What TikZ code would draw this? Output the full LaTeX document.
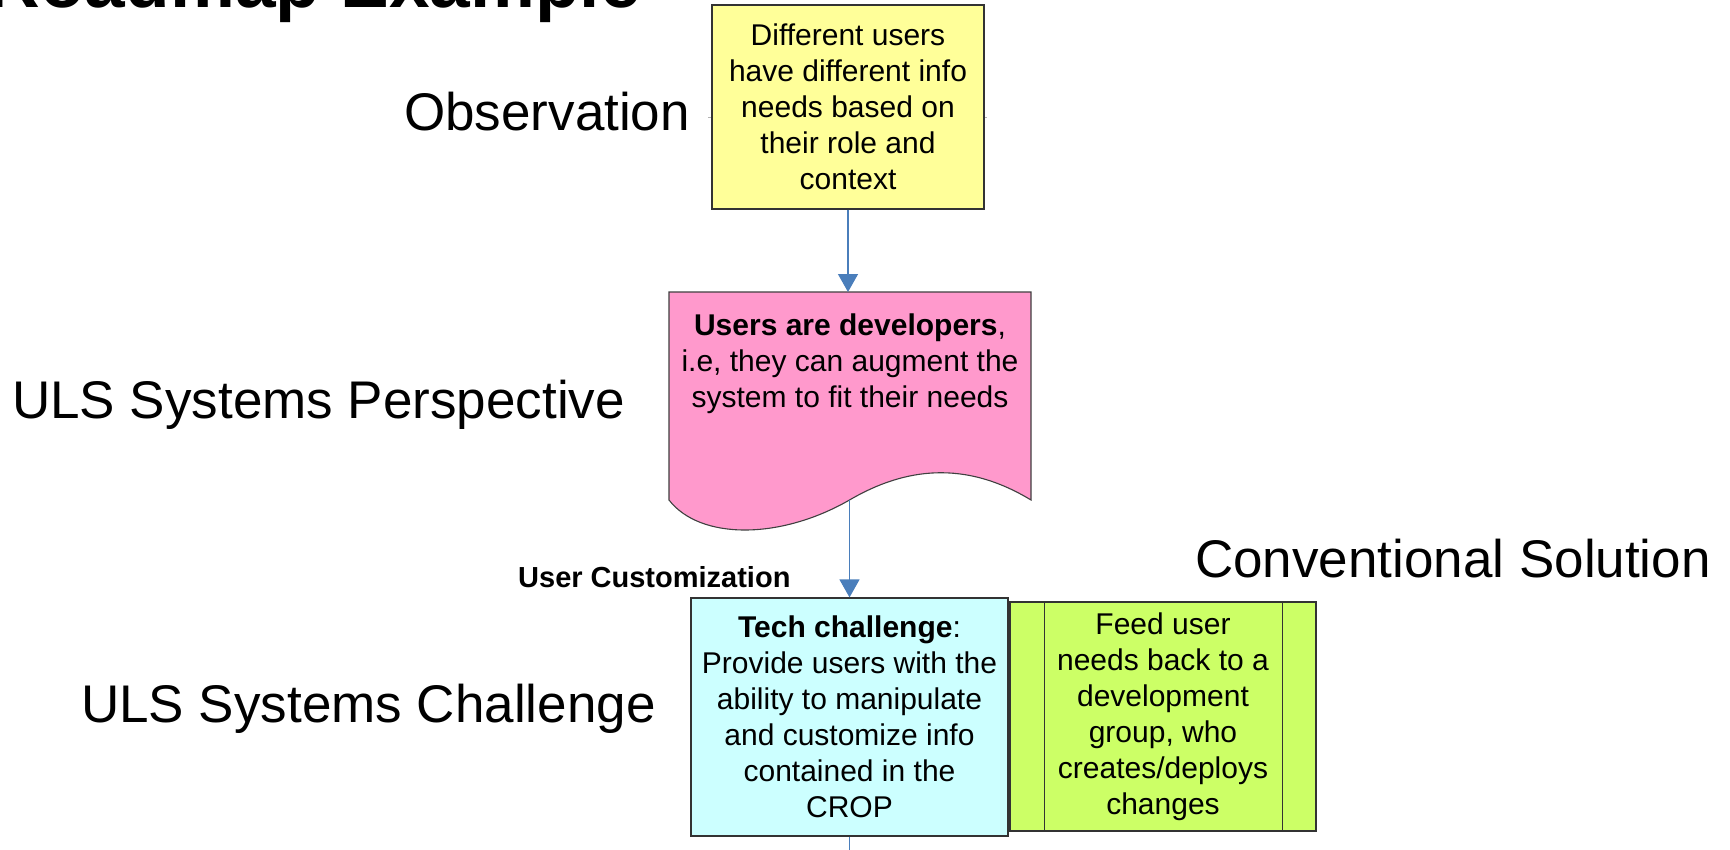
\documentclass[tikz,border=0pt]{standalone}
\usepackage{fontspec}
\setmainfont{Liberation Sans}
\usetikzlibrary{arrows.meta}
\definecolor{yel}{HTML}{FFFF99}
\definecolor{pnk}{HTML}{FF99CC}
\definecolor{cyn}{HTML}{CCFFFF}
\definecolor{grn}{HTML}{CCFF66}
\definecolor{arr}{HTML}{4A7EBB}
\begin{document}
\begin{tikzpicture}[x=1pt,y=-1pt,
  boxtext/.style={font=\fontsize{30}{36}\selectfont, align=center, text=black},
  bigtext/.style={font=\fontsize{53}{60}\selectfont, inner sep=0pt},
  flowbox/.style={draw=black!80, line width=1.2pt, inner sep=0pt},
  flowline/.style={draw=arr, line width=1.3pt},
  flowarrow/.style={flowline, -{Triangle[width=20pt,length=18pt]}}]
\useasboundingbox (0,0) rectangle (1730,849);
\clip (0,0) rectangle (1730,849);
\fill[white] (0,0) rectangle (1730,849);

% title (cut by the top edge)
\node[anchor=base east, inner sep=0pt, font=\bfseries\fontsize{73}{80}\selectfont] (title) at (641,7) {Roadmap Example};

% row labels
\node[bigtext, anchor=base west] (obs) at (404,130) {Observation};
\node[bigtext, anchor=base west] (persp) at (12,418) {ULS Systems Perspective};
\node[bigtext, anchor=base west] (chal) at (81,722) {ULS Systems Challenge};
\node[bigtext, anchor=base west] (conv) at (1195,577) {Conventional Solution};
\node[anchor=base west, inner sep=0pt, font=\bfseries\fontsize{29}{34}\selectfont] (ucust) at (518,587) {User Customization};

% faint line behind the observation box
\coordinate (gl1) at (708,117);
\coordinate (gl2) at (987,117);
\draw[gray!60, line width=0.8pt] (gl1) -- (gl2);

% observation box
\node[flowbox, fill=yel, boxtext, minimum width=272pt, minimum height=204pt] (obsbox) at (848,107)
  {Different users\\have different info\\needs based on\\their role and\\context};

% document shape
\coordinate (doctop) at (848,292);
\coordinate (docbot) at (849.5,500);
\path[draw=black!75, line width=1.1pt, fill=pnk] (669,292) -- (1031,292) -- (1031,500)
  .. controls (965,460) and (905,467.5) .. (docbot)
  .. controls (780,540) and (700,540) .. (669,500) -- cycle;
\node[boxtext, anchor=north, inner sep=0pt] (doctext) at (850,314)
  {\textbf{Users are developers},\\i.e, they can augment the\\system to fit their needs};

% tech challenge box
\node[flowbox, fill=cyn, boxtext, minimum width=317pt, minimum height=238pt] (tech) at (849.5,717)
  {\textbf{Tech challenge}:\\Provide users with the\\ability to manipulate\\and customize info\\contained in the\\CROP};

% conventional solution box (predefined process)
\node[flowbox, fill=grn, boxtext, minimum width=306pt, minimum height=229pt] (gbox) at (1163,716.5)
  {Feed user\\needs back to a\\development\\group, who\\creates/deploys\\changes};
\draw[draw=black!80, line width=1.2pt] ([xshift=35pt]gbox.north west) -- ([xshift=35pt]gbox.south west);
\draw[draw=black!80, line width=1.2pt] ([xshift=-34pt]gbox.north east) -- ([xshift=-34pt]gbox.south east);

% connectors
\coordinate (exit) at (849.5,870);
\draw[flowarrow] (obsbox.south) -- (doctop);
\draw[flowarrow] (docbot) -- (tech.north);
\draw[flowline] (tech.south) -- (exit);
\end{tikzpicture}
\end{document}
